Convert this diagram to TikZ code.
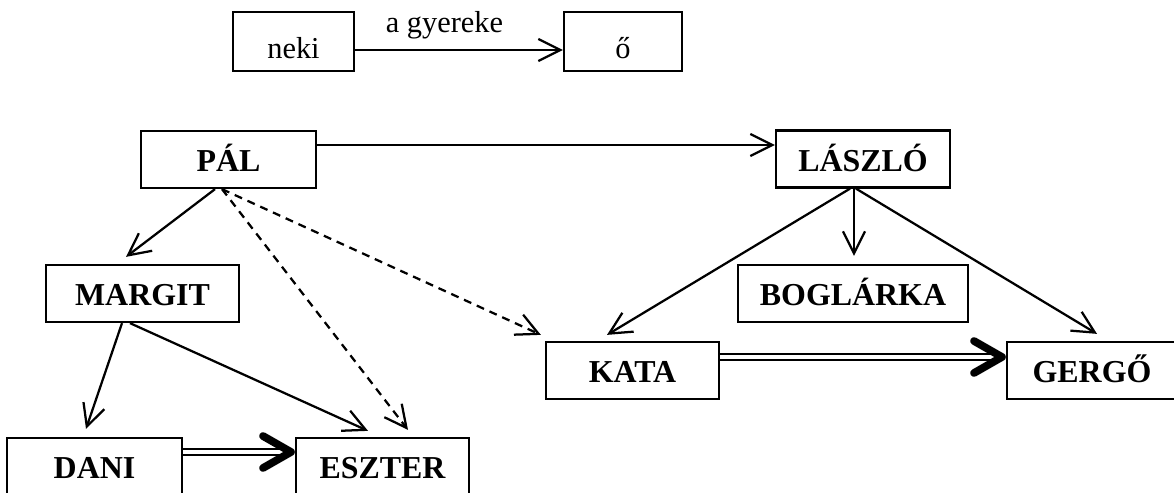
\documentclass[tikz,border=0pt]{standalone}
\usepackage{fontspec}
\setmainfont{Liberation Serif}
\usepackage{tikz}
\usetikzlibrary{arrows.meta, calc}

\begin{document}
\begin{tikzpicture}[x=0.025cm, y=-0.025cm, line width=1.6pt,
    person/.style={draw, inner sep=0pt, minimum height=1.425cm, text height=17.7pt, text depth=0pt, font=\fontsize{22.7}{27}\selectfont\bfseries},
    legend/.style={draw, inner sep=0pt, minimum height=1.475cm, text height=24pt, text depth=0pt, font=\fontsize{21.6}{25}\selectfont},
    child/.style={-{Straight Barb[length=0.55cm, width=0.55cm]}},
    indirect/.style={child, dash pattern=on 0.2cm off 0.15cm},
    twin/.style={double, line width=1.8pt, double distance=2.5pt},
    heavy/.style={-{Straight Barb[length=0.7cm, width=0.8cm, line width=5.5pt, round]}}]
    \useasboundingbox (0,0) rectangle (1174,492);
    \clip (0,0) rectangle (1174,492);

    \node[legend, minimum width=3.025cm] (neki) at (293.5,41.5) {neki};
    \node[legend, minimum width=2.95cm] (o) at (623,41.5) {ő};
    \draw[child] ($(neki.east)+(0,8.5)$) -- node[pos=0.43, anchor=base, yshift=0.425cm, font=\fontsize{21.6}{25}\selectfont] (label) {a gyereke} ($(o.west)+(0,8.5)$);

    \node[person, minimum width=4.375cm] (pal) at (228.5,159.5) {PÁL};
    \node[person, minimum width=4.35cm] (laszlo) at (863,159) {LÁSZLÓ};
    \node[person, minimum width=4.825cm] (margit) at (142.5,293.5) {MARGIT};
    \node[person, minimum width=5.75cm] (boglarka) at (853,293.5) {BOGLÁRKA};
    \node[person, minimum width=4.325cm] (kata) at (632.5,370.5) {KATA};
    \node[person, minimum width=4.25cm] (gergo) at (1092,370.5) {GERGŐ};
    \node[person, minimum width=4.375cm] (dani) at (94.5,466.5) {DANI};
    \node[person, minimum width=4.325cm] (eszter) at (382.5,466.5) {ESZTER};

    \draw[child] ($(pal.east)+(0,-14.5)$) -- ($(laszlo.west)+(0,-14)$);
    \draw[child] ($(pal.south)+(-13.5,0)$) -- ($(margit.north)+(-16.5,-7)$);
    \draw[indirect] ($(pal.south)+(-6.5,0)$) -- ($(eszter.north)+(25.5,-7)$);
    \draw[indirect] ($(pal.south)+(-6.5,0)$) -- ($(kata.north west)+(-4,-6)$);
    \draw[child] ($(margit.south)+(-20.5,0)$) -- ($(dani.north)+(-8.5,-8)$);
    \draw[child] ($(margit.south)+(-12.5,0)$) -- ($(eszter.north)+(-14.5,-6)$);
    \draw[child] ($(laszlo.south)+(-13,0)$) -- ($(kata.north)+(-25.5,-6)$);
    \draw[child] ($(laszlo.south)+(-9,0)$) -- ($(boglarka.north)+(1,-8)$);
    \draw[child] ($(laszlo.south)+(-7,0)$) -- ($(gergo.north)+(5,-7)$);

    \draw[twin] ($(dani.east)+(0,-14.5)$) -- ($(eszter.west)+(-4,-14.5)$);
    \draw[heavy] ($(eszter.west)+(-8,-14.5)$) -- ($(eszter.west)+(0,-14.5)$);
    \draw[twin] ($(kata.east)+(0,-13.5)$) -- ($(gergo.west)+(-4,-13.5)$);
    \draw[heavy] ($(gergo.west)+(-8,-13.5)$) -- ($(gergo.west)+(0,-13.5)$);
\end{tikzpicture}
\end{document}
